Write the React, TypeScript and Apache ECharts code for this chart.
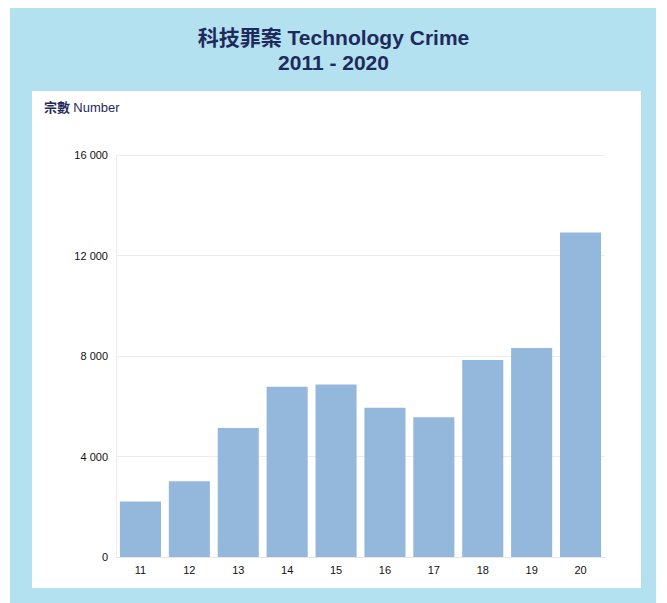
import React, { useEffect, useRef } from "react";
import * as echarts from "echarts";

const categories = ["11", "12", "13", "14", "15", "16", "17", "18", "19", "20"];
const values = [2206, 3015, 5133, 6778, 6862, 5939, 5567, 7838, 8322, 12916];
const titleLine1 = "科技罪案 Technology Crime";
const titleLine2 = "2011 - 2020";
const unitLabelZh = "宗數";
const unitLabelEn = "Number";

export default function App() {
  const ref = useRef<HTMLDivElement>(null);
  useEffect(() => {
    if (!ref.current) return;
    const chart = echarts.init(ref.current, null, { renderer: "svg" });
    const font = "'Liberation Sans', Arial, 'Noto Sans CJK TC', sans-serif";
    chart.setOption({
      animation: false,
      backgroundColor: "#ffffff",
      title: {
        text: titleLine1 + "\n" + titleLine2,
        left: "center",
        top: 20,
        textStyle: {
          fontSize: 21,
          fontWeight: "bold",
          lineHeight: 25,
          color: "#1f2a5c",
          fontFamily: font,
        },
      },
      graphic: [
        {
          type: "rect",
          z: -10,
          silent: true,
          shape: { x: 10, y: 8, width: 646, height: 600 },
          style: { fill: "#b3e1ef" },
        },
        {
          type: "rect",
          z: -9,
          silent: true,
          shape: { x: 32, y: 91, width: 609, height: 497 },
          style: { fill: "#ffffff" },
        },
        {
          type: "text",
          x: 44,
          y: 107,
          style: {
            text: "{a|" + unitLabelZh + "} {b|" + unitLabelEn + "}",
            verticalAlign: "middle",
            rich: {
              a: { fill: "#1f2a5c", fontSize: 13, fontWeight: "bold", fontFamily: font },
              b: { fill: "#1f2a5c", fontSize: 13, fontFamily: font },
            },
          },
        },
      ],
      grid: { left: 116, right: 62, top: 155, bottom: 46, containLabel: false },
      xAxis: {
        type: "category",
        data: categories,
        axisTick: { show: false },
        axisLine: { lineStyle: { color: "#e6e6e6" } },
        axisLabel: { color: "#111", fontSize: 11, margin: 7, fontFamily: font },
      },
      yAxis: {
        type: "value",
        min: 0,
        max: 16000,
        interval: 4000,
        axisLine: { show: true, lineStyle: { color: "#ececec" } },
        axisTick: { show: false },
        splitLine: { lineStyle: { color: "#ececec" } },
        axisLabel: {
          color: "#111",
          fontSize: 11,
          margin: 8,
          fontFamily: font,
          formatter: (v: number) => String(v).replace(/\B(?=(\d{3})+(?!\d))/g, " "),
        },
      },
      series: [
        {
          type: "bar",
          data: values,
          barCategoryGap: "16%",
          itemStyle: { color: "#93b8db" },
        },
      ],
    });
    return () => chart.dispose();
  }, []);
  return (
    <div
      ref={ref}
      style={{ position: "fixed", left: 0, top: 0, width: 667, height: 603 }}
    />
  );
}
